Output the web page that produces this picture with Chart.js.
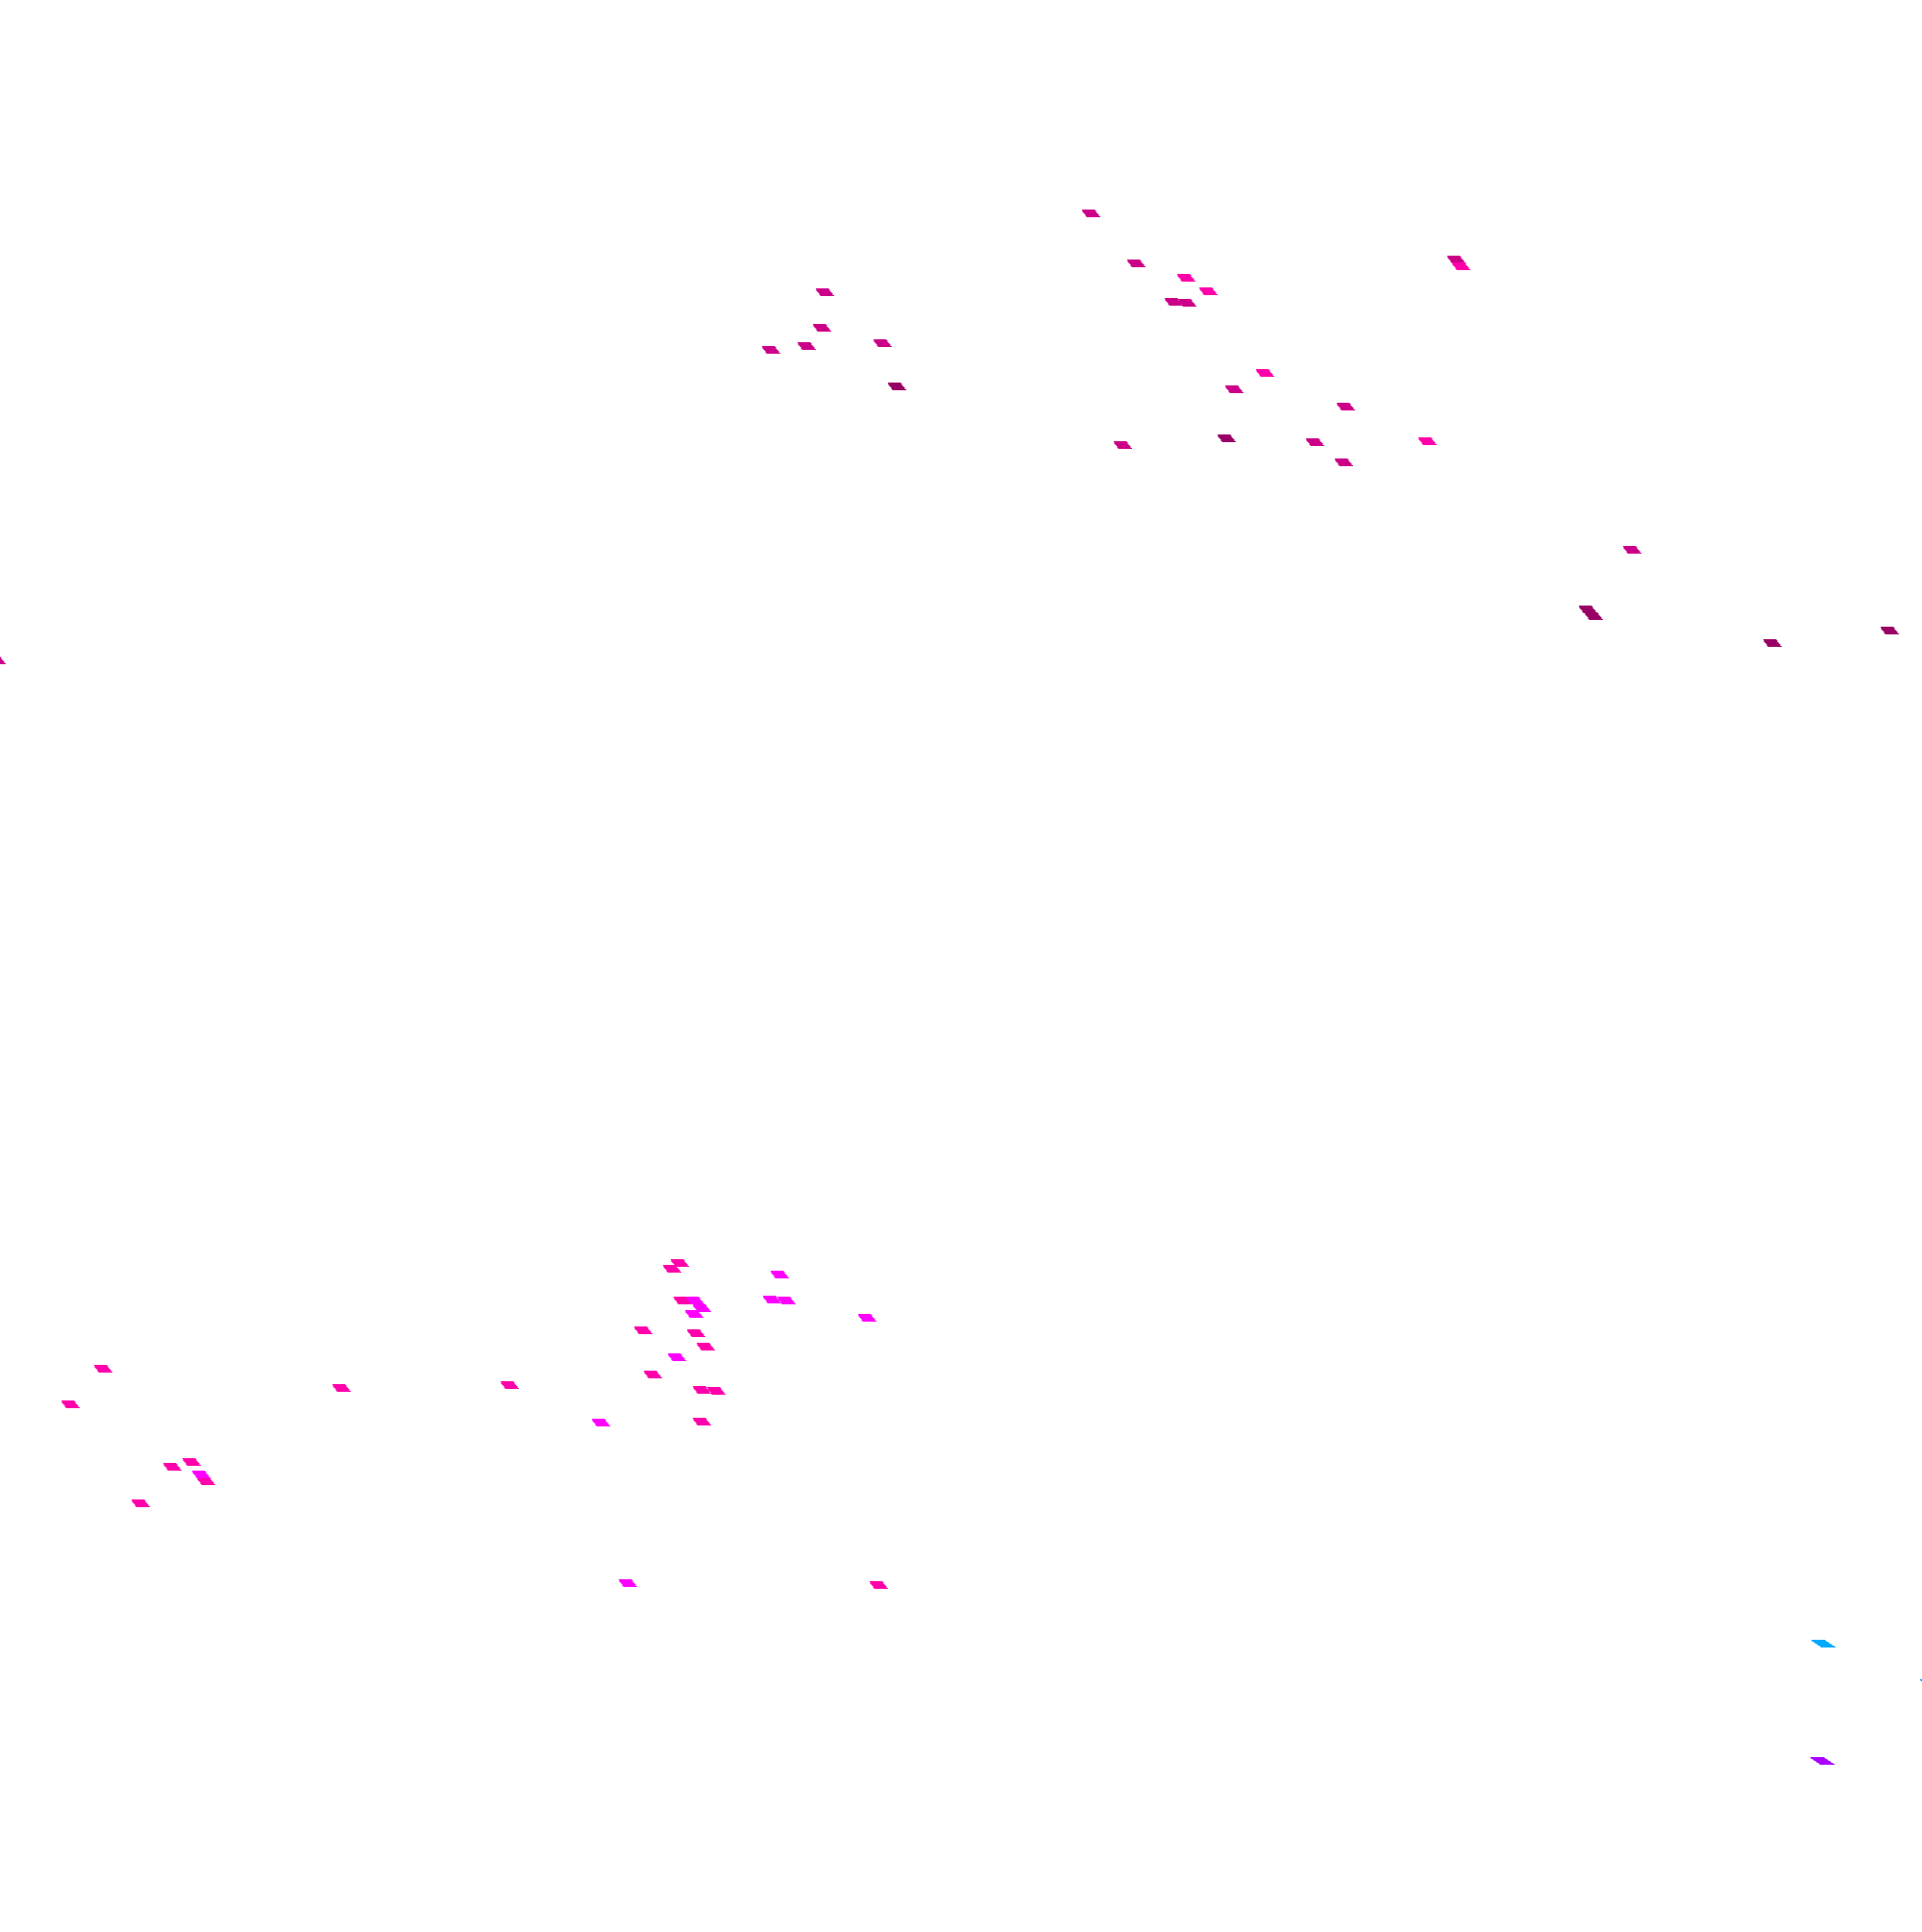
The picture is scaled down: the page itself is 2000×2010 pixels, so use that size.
<!DOCTYPE html>
<html>
<head>
<meta charset="utf-8">
<script src="https://cdn.jsdelivr.net/npm/chart.js@4"></script>
<style>
  html, body { margin: 0; padding: 0; background: #ffffff; }
  #wrap { width: 2000px; height: 2010px; }
</style>
</head>
<body>
<div id="wrap"><canvas id="chart" width="2000" height="2010"></canvas></div>
<script>
// values (x across, y down)
const mediumX = [1135, 1182, 858, 855, 839, 802, 918, 1168, 1221, 1235, 1515, 1284, 1400, 1368, 1398, 1698, -4];
const mediumY = [222, 274, 304, 341, 360, 364, 357, 463, 314, 315, 270, 405, 423, 460, 481, 572, 687];

const brightX = [1234, 1257, 1520, 1316, 1485];
const brightY = [289, 303, 277, 388, 459];

const darkX = [933, 1276, 1652, 1658, 1844, 1966];
const darkY = [402, 456, 634, 641, 669, 656];

const pinkX = [107, 73, 355, 179, 199, 214, 146, 707, 699, 710, 669, 724, 734, 679, 530, 730, 745, 730, 914];
const pinkY = [1424, 1461, 1444, 1526, 1521, 1541, 1564, 1314, 1320, 1353, 1384, 1387, 1401, 1430, 1441, 1446, 1447, 1479, 1649];

const magentaX = [209, 811, 723, 730, 722, 803, 818, 902, 704, 625, 653];
const magentaY = [1534, 1326, 1353, 1361, 1367, 1352, 1353, 1371, 1412, 1480, 1647];

const blueX = [1897, 2010];
const blueY = [1710, 1751];

const purpleX = [1896];
const purpleY = [1832];

// little slanted block used as the point marker
function makeMark(color, top, shear, h) {
  const c = document.createElement("canvas");
  c.width = top + shear;
  c.height = h;
  const g = c.getContext("2d");
  g.fillStyle = color;
  for (let r = 0; r < h; r++) {
    const off = Math.round((shear * r) / (h - 1));
    g.fillRect(off, r, top, 1);
  }
  return c;
}

function pts(xs, ys) {
  return xs.map((x, i) => ({ x: x, y: ys[i] }));
}

function series(label, xs, ys, mark) {
  return {
    label: label,
    data: pts(xs, ys),
    pointStyle: mark,
    pointRadius: 10,
    pointHoverRadius: 10,
    showLine: false,
  };
}

const ctx = document.getElementById("chart").getContext("2d");
new Chart(ctx, {
  type: "scatter",
  data: {
    datasets: [
      series("dark", darkX, darkY, makeMark("#990066", 14, 5, 8)),
      series("bright", brightX, brightY, makeMark("#ff00aa", 14, 5, 8)),
      series("medium", mediumX, mediumY, makeMark("#cc0088", 14, 5, 8)),
      series("magenta", magentaX, magentaY, makeMark("#ff00ff", 14, 5, 8)),
      series("pink", pinkX, pinkY, makeMark("#ff00aa", 14, 5, 8)),
      series("blue", blueX, blueY, makeMark("#00aaff", 15, 10, 8)),
      series("purple", purpleX, purpleY, makeMark("#aa00ff", 15, 10, 8)),
    ],
  },
  options: {
    responsive: false,
    animation: false,
    layout: { padding: 0, autoPadding: false },
    plugins: {
      legend: { display: false },
      tooltip: { enabled: false },
    },
    scales: {
      x: { type: "linear", min: 0, max: 2000, display: false },
      y: { type: "linear", min: 0, max: 2010, reverse: true, display: false },
    },
  },
});
</script>
</body>
</html>
